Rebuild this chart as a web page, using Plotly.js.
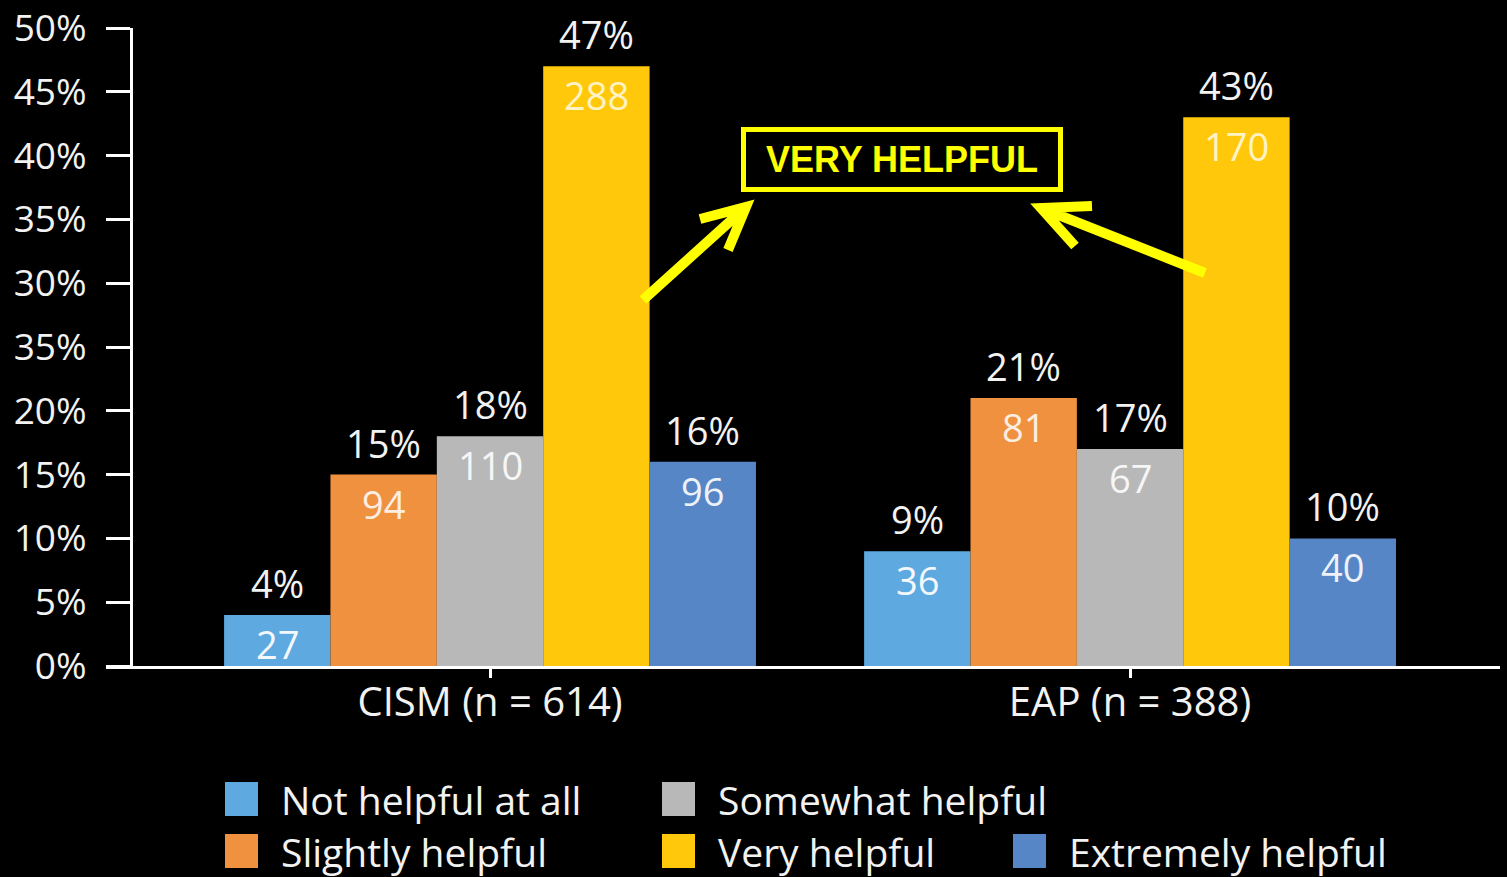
<!DOCTYPE html>
<html>
<head>
<meta charset="utf-8">
<script src="https://cdn.plot.ly/plotly-3.0.1.min.js"></script>
<style>
  html, body { margin: 0; padding: 0; background: #000; }
  #chart { width: 1507px; height: 877px; }
</style>
</head>
<body>
<div id="chart"></div>
<script>
// ---------------- data ----------------
const categories = ['CISM (n = 614)', 'EAP (n = 388)'];
const seriesNames = ['Not helpful at all', 'Slightly helpful', 'Somewhat helpful', 'Very helpful', 'Extremely helpful'];
const notHelpfulPct = [4, 9];
const notHelpfulN = [27, 36];
const slightlyPct = [15, 21];
const slightlyN = [94, 81];
const somewhatPct = [18, 17];
const somewhatN = [110, 67];
const veryPct = [47, 43];
const veryN = [288, 170];
const extremelyPct = [16, 10];
const extremelyN = [96, 40];
const yTickVals = [0, 5, 10, 15, 20, 25, 30, 35, 40, 45, 50];
const yTickText = ['0%', '5%', '10%', '15%', '20%', '35%', '30%', '35%', '40%', '45%', '50%'];
const calloutText = 'VERY HELPFUL';

// ---------------- styles ----------------
const seriesPct = [notHelpfulPct, slightlyPct, somewhatPct, veryPct, extremelyPct];
const seriesN = [notHelpfulN, slightlyN, somewhatN, veryN, extremelyN];
const colors = ['#5eaae0', '#f0913f', '#b8b8b8', '#ffc80a', '#5686c6'];
const countColors = ['#f4f8fc', '#fbeee2', '#f6f6f6', '#fff3c4', '#eef2f8'];
const FONT = '"Open Sans", "Noto Sans", sans-serif';
const W = 1507, H = 877;
const M = { l: 106, r: 7, t: 28, b: 211 };
const PW = W - M.l - M.r, PH = H - M.t - M.b;
const px = x => (x - M.l) / PW;
const py = y => (H - M.b - y) / PH;

const nSeries = seriesNames.length;
const groupFrac = 0.831;
const barW = groupFrac / nSeries;

const traces = seriesNames.map((name, i) => ({
  type: 'bar',
  name: name,
  x: categories,
  y: seriesPct[i],
  marker: { color: colors[i], line: { width: 0 } },
  showlegend: false,
  hoverinfo: 'x+y+name'
}));

const annotations = [];
seriesNames.forEach((name, i) => {
  categories.forEach((c, ci) => {
    const xc = ci - groupFrac / 2 + (i + 0.5) * barW;
    annotations.push({
      x: xc, y: seriesPct[i][ci], xref: 'x', yref: 'y',
      text: seriesPct[i][ci] + '%', showarrow: false,
      yanchor: 'middle', yshift: 32,
      font: { family: FONT, size: 38, color: '#f2f2f2' }
    });
    annotations.push({
      x: xc, y: seriesPct[i][ci], xref: 'x', yref: 'y',
      text: String(seriesN[i][ci]), showarrow: false,
      yanchor: 'middle', yshift: -29,
      font: { family: FONT, size: 38, color: countColors[i] }
    });
  });
});

// callout text
annotations.push({
  x: px(902), y: py(159), xref: 'paper', yref: 'paper',
  text: '<b>' + calloutText + '</b>', showarrow: false,
  xanchor: 'center', yanchor: 'middle',
  font: { family: '"Liberation Sans", Arial, sans-serif', size: 36, color: '#ffff00' }
});

// custom legend
const legendSlots = [[0, 0], [0, 1], [1, 0], [1, 1], [2, 1]];
const legendColX = [225, 662, 1013];
const legendRowY = [799, 851];
const shapes = [];
seriesNames.forEach((name, i) => {
  const [c, r] = legendSlots[i];
  const x0 = legendColX[c], yc = legendRowY[r];
  shapes.push({
    type: 'rect', xref: 'paper', yref: 'paper',
    x0: px(x0), x1: px(x0 + 33), y0: py(yc + 17), y1: py(yc - 17),
    fillcolor: colors[i], line: { width: 0 }
  });
  annotations.push({
    x: px(x0 + 54), y: py(yc), xref: 'paper', yref: 'paper',
    text: name, showarrow: false, xanchor: 'left', yanchor: 'middle',
    font: { family: FONT, size: 39, color: '#f2f2f2' }
  });
});

// callout box
shapes.push({
  type: 'rect', xref: 'paper', yref: 'paper',
  x0: px(743.5), x1: px(1060.5), y0: py(189.5), y1: py(129.5),
  line: { color: '#ffff00', width: 5 }, fillcolor: 'rgba(0,0,0,0)'
});
// arrows
const arrowPath = (tail, tip, a1, a2) =>
  `M${px(tail[0])},${py(tail[1])} L${px(tip[0])},${py(tip[1])} ` +
  `M${px(a1[0])},${py(a1[1])} L${px(tip[0])},${py(tip[1])} L${px(a2[0])},${py(a2[1])}`;
shapes.push({
  type: 'path', xref: 'paper', yref: 'paper',
  path: arrowPath([643, 300], [746, 207], [700, 219], [728, 250]),
  line: { color: '#ffff00', width: 10 }
});
shapes.push({
  type: 'path', xref: 'paper', yref: 'paper',
  path: arrowPath([1205, 273], [1041, 208], [1092, 206], [1075, 246]),
  line: { color: '#ffff00', width: 10 }
});

const layout = {
  width: W, height: H,
  margin: M,
  paper_bgcolor: '#000000',
  plot_bgcolor: '#000000',
  barmode: 'group',
  bargap: 1 - groupFrac,
  bargroupgap: 0,
  showlegend: false,
  font: { family: FONT, color: '#f2f2f2' },
  xaxis: {
    type: 'category',
    range: [-0.6, 1.578],
    showline: true, linecolor: '#ffffff', linewidth: 3,
    ticks: 'outside', ticklen: 9, tickwidth: 3, tickcolor: '#ffffff',
    showgrid: false, zeroline: false,
    tickfont: { family: FONT, size: 40, color: '#f2f2f2' },
    ticklabelstandoff: -10,
    fixedrange: true
  },
  yaxis: {
    range: [0, 50],
    anchor: 'free', position: px(131),
    tickmode: 'array', tickvals: yTickVals, ticktext: yTickText,
    showline: true, linecolor: '#ffffff', linewidth: 3,
    ticks: 'outside', ticklen: 24, tickwidth: 3, tickcolor: '#ffffff',
    showgrid: false, zeroline: false,
    tickfont: { family: FONT, size: 37, color: '#f2f2f2' },
    ticklabelstandoff: 12,
    fixedrange: true
  },
  annotations: annotations,
  shapes: shapes
};

Plotly.newPlot('chart', traces, layout, { displayModeBar: false, staticPlot: true });
</script>
</body>
</html>
